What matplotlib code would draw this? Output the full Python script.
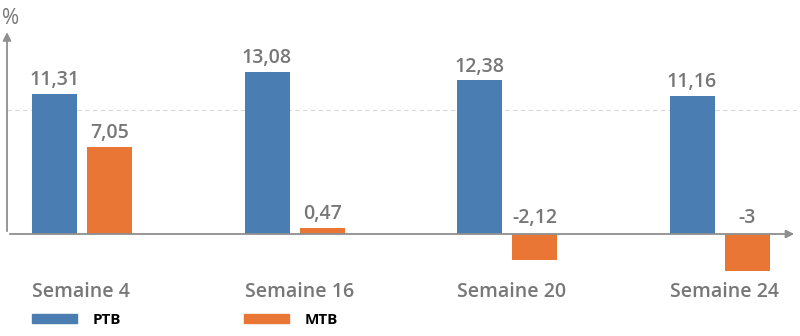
import numpy as np
from matplotlib import pyplot as plt
from matplotlib.patches import Patch

plt.rcParams['font.family'] = ['Open Sans', 'DejaVu Sans']

# ================================================== DONNEES ===========================================================

semaines = ["Semaine 4", "Semaine 16", "Semaine 20", "Semaine 24"]
ptb = [11.31, 13.08, 12.38, 11.16]
mtb = [7.05, 0.47, -2.12, -3]
series = ["PTB", "MTB"]

BLEU = "#4a7eb3"
ORANGE = "#ea7636"
GRIS_TEXTE = "#777777"
GRIS_AXE = "#8f8f8f"

def fmt(v):
    # format français, sans zéros inutiles
    s = f"{v:.2f}".rstrip("0").rstrip(".")
    return s.replace(".", ",")

# ================================================== GRAPHIQUE =========================================================

YMIN, YMAX = -3.5, 16.5
fig = plt.figure(figsize=(8, 3.36), dpi=100)
ax = fig.add_axes([7 / 800, 58.6 / 336, 790 / 800, 248 / 336])

x = np.arange(len(semaines))
w = 45 / 212.5
off = 27.5 / 212.5

ax.bar(x - off, ptb, width=w, color=BLEU)
ax.bar(x + off, mtb, width=w, color=ORANGE)

for xi, v in zip(x, ptb):
    ax.text(xi - off, v + 0.72, fmt(v), ha="center", va="baseline",
            fontsize=14, fontweight="semibold", color=GRIS_TEXTE)
for xi, v in zip(x, mtb):
    y_txt = v + 0.72 if v > 0 else 0.9
    ax.text(xi + off, y_txt, fmt(v), ha="center", va="baseline",
            fontsize=14, fontweight="semibold", color=GRIS_TEXTE)

ax.set_xlim(-75 / 212.5, 715 / 212.5)
ax.set_ylim(YMIN, YMAX)

# ligne pointillée à 10
ax.axhline(10, color="#d9d9d9", linestyle=(0, (4, 3)), linewidth=0.8, zorder=0)

# axes avec flèches
for s in ax.spines.values():
    s.set_visible(False)
xl = ax.get_xlim()
ax.annotate("", xy=(xl[1], 0), xytext=(xl[0], 0),
            arrowprops=dict(arrowstyle="-|>", color=GRIS_AXE, lw=1.3, mutation_scale=12))
ax.annotate("", xy=(xl[0], YMAX), xytext=(xl[0], 0),
            arrowprops=dict(arrowstyle="-|>", color=GRIS_AXE, lw=1.3, mutation_scale=12),
            annotation_clip=False)
fig.text(2 / 800, 1 - 24 / 336, "%", ha="left", va="baseline", fontsize=15, color=GRIS_TEXTE)

ax.set_yticks([])
ax.set_xticks([])

# libellés des semaines, alignés à gauche sur la barre PTB
for xi, lab in zip(x, semaines):
    ax.text(xi - off - w / 2, -5.08, lab, ha="left", va="baseline", clip_on=False,
            fontsize=14, fontweight="semibold", color=GRIS_TEXTE)

handles = [Patch(color=BLEU), Patch(color=ORANGE)]
leg = fig.legend(handles, series, ncol=2, loc="center left", bbox_to_anchor=(32 / 800, 16 / 336),
                 frameon=False, handlelength=2.95, handleheight=0.5, handletextpad=1.05,
                 columnspacing=8.0, borderaxespad=0, borderpad=0,
                 prop=dict(family="Open Sans", weight="bold", size=11))

fig.savefig("out.png", dpi=100)
